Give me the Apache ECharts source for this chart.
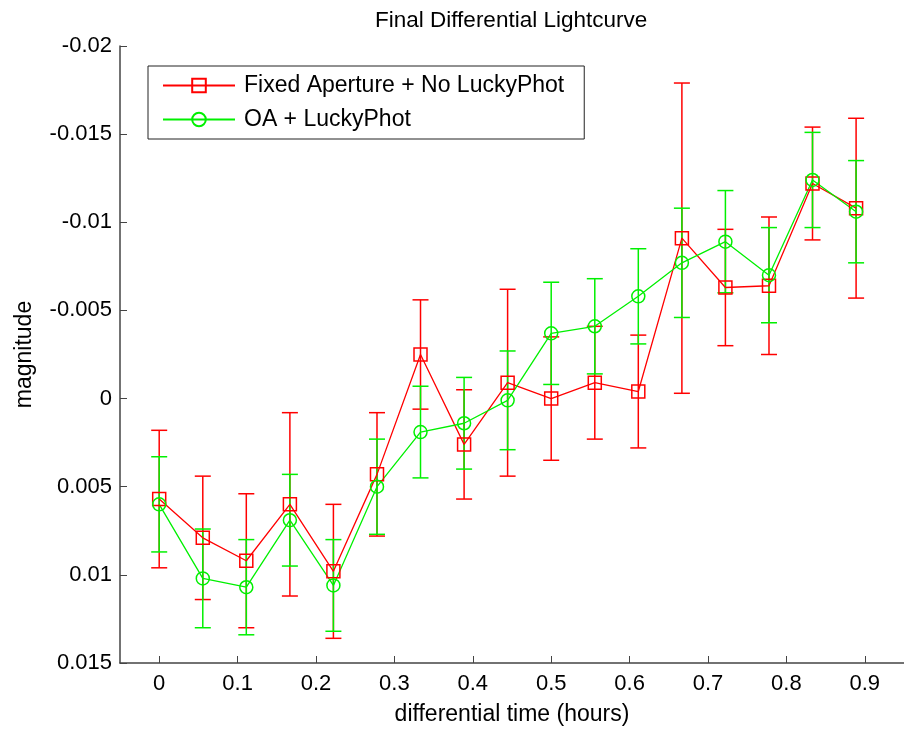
<!DOCTYPE html>
<html>
<head>
<meta charset="utf-8">
<title>Final Differential Lightcurve</title>
<script src="https://cdn.jsdelivr.net/npm/echarts@6/dist/echarts.min.js"></script>
<style>
  html, body { margin: 0; padding: 0; background: #fff; }
  #chart { width: 904px; height: 731px; }
</style>
</head>
<body>
<div id="chart"></div>
<script>
// differential time (hours) of each frame
const times = [0, 0.0556, 0.1111, 0.1667, 0.2222, 0.2778, 0.3333, 0.3889, 0.4444,
  0.5, 0.5556, 0.6111, 0.6667, 0.7222, 0.7778, 0.8333, 0.8889];

// Fixed Aperture + No LuckyPhot
const fixedMag = [0.0057, 0.0079, 0.0092, 0.0060, 0.0098, 0.0043, -0.0025, 0.0026, -0.0009,
  0.0000, -0.0009, -0.0004, -0.0091, -0.0063, -0.0064, -0.0122, -0.0108];
const fixedErr = [0.0039, 0.0035, 0.0038, 0.0052, 0.0038, 0.0035, 0.0031, 0.0031, 0.0053,
  0.0035, 0.0032, 0.0032, 0.0088, 0.0033, 0.0039, 0.0032, 0.0051];

// OA + LuckyPhot
const oaMag = [0.0060, 0.0102, 0.0107, 0.0069, 0.0106, 0.0050, 0.0019, 0.0014, 0.0001,
  -0.0037, -0.0041, -0.0058, -0.0077, -0.0089, -0.0070, -0.0124, -0.0106];
const oaErr = [0.0027, 0.0028, 0.0027, 0.0026, 0.0026, 0.0027, 0.0026, 0.0026, 0.0028,
  0.0029, 0.0027, 0.0027, 0.0031, 0.0029, 0.0027, 0.0027, 0.0029];

const xTicks = [0, 0.1, 0.2, 0.3, 0.4, 0.5, 0.6, 0.7, 0.8, 0.9];

const FONT = 'Liberation Sans';
const RED = '#ff0000';
const GREEN = '#00f000';

function errorSeries(name, mags, errs, color) {
  return {
    name: name,
    type: 'custom',
    silent: true,
    data: times.map((t, i) => [t, mags[i] - errs[i], mags[i] + errs[i]]),
    encode: { x: 0, y: [1, 2] },
    renderItem(params, api) {
      const x = api.value(0);
      const lo = api.coord([x, api.value(1)]);
      const hi = api.coord([x, api.value(2)]);
      const w = 8;
      const style = { stroke: color, lineWidth: 1.5 };
      return {
        type: 'group',
        children: [
          { type: 'line', shape: { x1: lo[0], y1: lo[1], x2: hi[0], y2: hi[1] }, style },
          { type: 'line', shape: { x1: lo[0] - w, y1: lo[1], x2: lo[0] + w, y2: lo[1] }, style },
          { type: 'line', shape: { x1: hi[0] - w, y1: hi[1], x2: hi[0] + w, y2: hi[1] }, style }
        ]
      };
    }
  };
}

function lineSeries(name, mags, symbol, color) {
  return {
    name: name,
    type: 'line',
    data: times.map((t, i) => [t, mags[i]]),
    symbol: symbol,
    symbolSize: 13,
    showAllSymbol: true,
    lineStyle: { color: color, width: 1.3 },
    itemStyle: { color: 'rgba(255,255,255,0)', borderColor: color, borderWidth: 1.5 },
    emphasis: { disabled: true }
  };
}

const chart = echarts.init(document.getElementById('chart'));
chart.setOption({
  animation: false,
  backgroundColor: '#fff',
  textStyle: { fontFamily: FONT },
  title: {
    text: 'Final Differential Lightcurve',
    left: 370,
    top: 4,
    textStyle: { fontFamily: FONT, fontSize: 22.5, fontWeight: 'normal', color: '#000' }
  },
  legend: {
    data: ['Fixed Aperture + No LuckyPhot', 'OA + LuckyPhot'],
    orient: 'vertical',
    left: 148,
    top: 66,
    padding: [8, 20, 8, 14],
    itemGap: 11,
    itemWidth: 72,
    itemHeight: 17,
    selectedMode: false,
    backgroundColor: '#fff',
    borderColor: '#222',
    borderWidth: 1,
    textStyle: { fontFamily: FONT, fontSize: 23, color: '#000', padding: [0, 0, 0, 4] }
  },
  grid: { left: 120, right: -5, top: 46, bottom: 64, containLabel: false },
  xAxis: {
    type: 'value',
    min: -0.05,
    max: 0.95,
    name: 'differential time (hours)',
    nameLocation: 'middle',
    nameGap: 40,
    nameTextStyle: { fontFamily: FONT, fontSize: 23, color: '#000' },
    axisLine: { onZero: false, lineStyle: { color: '#444', width: 1.5 } },
    axisTick: { inside: true, length: 7, customValues: xTicks, lineStyle: { color: '#444' } },
    axisLabel: { customValues: xTicks, margin: 10, fontFamily: FONT, fontSize: 22, color: '#000' },
    splitLine: { show: false }
  },
  yAxis: {
    type: 'value',
    inverse: true,
    min: -0.02,
    max: 0.015,
    interval: 0.005,
    name: 'magnitude',
    nameLocation: 'middle',
    nameGap: 84,
    nameTextStyle: { fontFamily: FONT, fontSize: 23, color: '#000' },
    axisLine: { show: true, onZero: false, lineStyle: { color: '#444', width: 1.5 } },
    axisTick: { show: true, inside: true, length: 7, lineStyle: { color: '#444' } },
    axisLabel: {
      margin: 8,
      fontFamily: FONT,
      fontSize: 22,
      color: '#000',
      formatter: v => String(Number(v.toFixed(4)))
    },
    splitLine: { show: false }
  },
  series: [
    errorSeries('fixedErr', fixedMag, fixedErr, RED),
    lineSeries('Fixed Aperture + No LuckyPhot', fixedMag, 'rect', RED),
    errorSeries('oaErr', oaMag, oaErr, GREEN),
    lineSeries('OA + LuckyPhot', oaMag, 'circle', GREEN)
  ]
});
</script>
</body>
</html>
